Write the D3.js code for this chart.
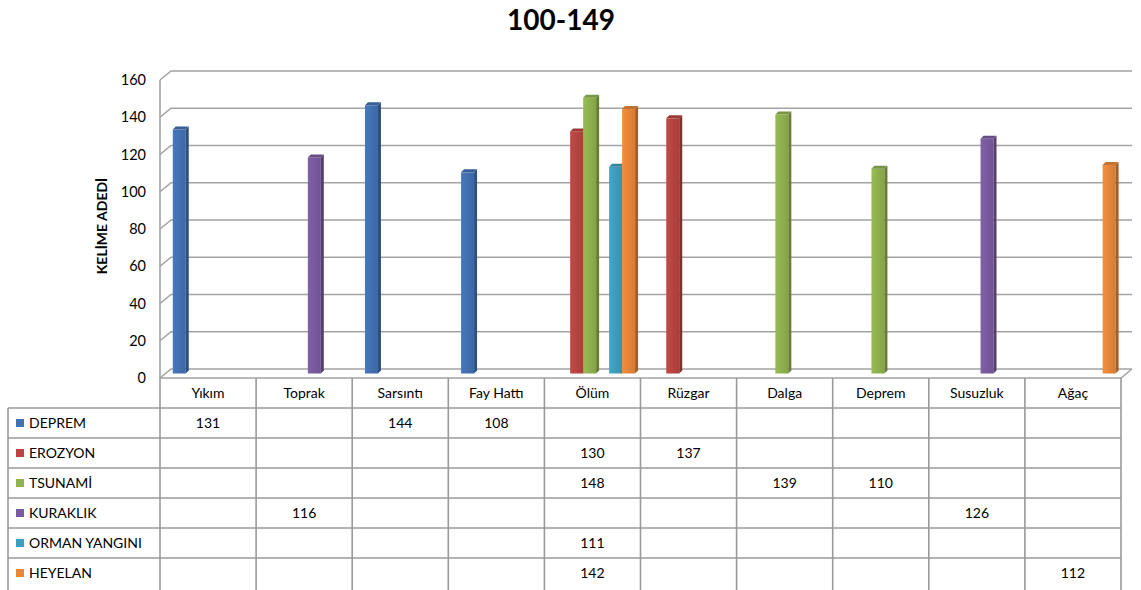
<!DOCTYPE html>
<html>
<head>
  <meta charset="utf-8">
  <title>100-149</title>
  <style>
    body { margin: 0; background: #fff; }
    text { font-family: Lato, "Open Sans", sans-serif; fill: #000; }
  </style>
</head>
<body>
<script src="https://cdn.jsdelivr.net/npm/d3@7/dist/d3.min.js"></script>
<script>
var categories = ['Yıkım', 'Toprak', 'Sarsıntı', 'Fay Hattı', 'Ölüm', 'Rüzgar', 'Dalga', 'Deprem', 'Susuzluk', 'Ağaç']
var seriesNames = ['DEPREM', 'EROZYON', 'TSUNAMİ', 'KURAKLIK', 'ORMAN YANGINI', 'HEYELAN']
var seriesColors = ['#4272b2', '#b94441', '#90b24f', '#7a5b9f', '#3d9fbe', '#e8883b']
// one value per category, null = empty cell
var deprem   = [131, null, 144, 108, null, null, null, null, null, null]
var erozyon  = [null, null, null, null, 130, 137, null, null, null, null]
var tsunami  = [null, null, null, null, 148, null, 139, 110, null, null]
var kuraklik = [null, 116, null, null, null, null, null, null, 126, null]
var orman    = [null, null, null, null, 111, null, null, null, null, null]
var heyelan  = [null, null, null, null, 142, null, null, null, null, 112]
var yTicks = [0, 20, 40, 60, 80, 100, 120, 140, 160]

var values = [deprem, erozyon, tsunami, kuraklik, orman, heyelan]

var width = 1141
var height = 590
var plotLeft = 160, plotRight = 1121, plotTop = 80, floorY = 378
var DX = 11, DY = -9      // depth of the walls
var BD = 3                // depth of a bar
var rowH = 30

var svg = d3.select('body').append('svg')
  .attr('width', width)
  .attr('height', height)

// slight left-to-right shading on the bar faces
var defs = svg.append('defs')
seriesColors.forEach(function(c, i) {
  var g = defs.append('linearGradient').attr('id', 'grad' + i)
    .attr('x1', 0).attr('x2', 1).attr('y1', 0).attr('y2', 0)
  g.append('stop').attr('offset', '0%').attr('stop-color', d3.color(c).brighter(0.15))
  g.append('stop').attr('offset', '100%').attr('stop-color', d3.color(c).darker(0.25))
})

var x = d3.scaleBand()
  .domain(categories)
  .range([plotLeft, plotRight])

var xs = d3.scaleBand()
  .domain(d3.range(seriesNames.length))
  .range([0, x.bandwidth()])
  .paddingOuter(0.7)
  .align(0.4)

var y = d3.scaleLinear()
  .domain([0, 160])
  .range([floorY, plotTop])

// title
svg.append('text')
  .attr('x', 561).attr('y', 30)
  .attr('text-anchor', 'middle')
  .style('font-size', '28px')
  .style('font-weight', 'bold')
  .text('100-149')

// walls & gridlines
var grid = svg.append('g').attr('stroke', '#a3a3a3').attr('stroke-width', 1.6).attr('fill', 'none')
grid.selectAll('path.gl')
  .data(yTicks)
  .enter()
  .append('path')
  .attr('class', 'gl')
  .attr('d', function(d) {
    var yy = y(d)
    return 'M' + plotLeft + ',' + yy + 'L' + (plotLeft + DX) + ',' + (yy + DY) + 'L' + (plotRight + DX) + ',' + (yy + DY)
  })
grid.append('path')
  .attr('d', 'M' + plotLeft + ',' + plotTop + 'L' + plotLeft + ',' + floorY)
// floor front edge and right corner
grid.append('path')
  .attr('d', 'M' + plotLeft + ',' + floorY + 'L' + plotRight + ',' + floorY + 'L' + (plotRight + DX) + ',' + (floorY + DY))

// y axis labels
var yAxis = d3.axisLeft(y).tickValues(yTicks).tickSize(0).tickPadding(14)
var gy = svg.append('g')
  .attr('transform', 'translate(' + plotLeft + ',0)')
  .call(yAxis)
gy.select('.domain').remove()
gy.selectAll('text')
  .style('font-size', '14.5px')
  .style('font-family', 'Lato, sans-serif')
  .attr('fill', '#000')

svg.append('text')
  .attr('transform', 'translate(107,226) rotate(-90)')
  .attr('text-anchor', 'middle')
  .style('font-size', '14px')
  .style('font-weight', 'bold')
  .text('KELİME ADEDİ')

// bars as small prisms, placed at mid depth
var bars = []
categories.forEach(function(c, ci) {
  values.forEach(function(arr, si) {
    if (arr[ci] != null) bars.push({ c: c, s: si, v: arr[ci] })
  })
})

var gb = svg.append('g').attr('transform', 'translate(' + (DX / 2) + ',' + (DY / 2) + ')')
var bar = gb.selectAll('g.bar')
  .data(bars)
  .enter()
  .append('g')
  .attr('class', 'bar')

function x0(d) { return x(d.c) + xs(d.s) }
var bw = xs.bandwidth()

bar.append('rect')
  .attr('x', x0)
  .attr('y', function(d) { return y(d.v) })
  .attr('width', bw)
  .attr('height', function(d) { return y(0) - y(d.v) })
  .attr('fill', function(d) { return 'url(#grad' + d.s + ')' })

bar.append('path')
  .attr('d', function(d) {
    var a = x0(d) + bw, t = y(d.v), b = y(0)
    return 'M' + a + ',' + t + 'L' + (a + BD) + ',' + (t - BD) + 'L' + (a + BD) + ',' + (b - BD) + 'L' + a + ',' + b + 'Z'
  })
  .attr('fill', function(d) { return d3.color(seriesColors[d.s]).darker(1) })

bar.append('path')
  .attr('d', function(d) {
    var a = x0(d), t = y(d.v)
    return 'M' + a + ',' + t + 'L' + (a + BD) + ',' + (t - BD) + 'L' + (a + bw + BD) + ',' + (t - BD) + 'L' + (a + bw) + ',' + t + 'Z'
  })
  .attr('fill', function(d) { return d3.color(seriesColors[d.s]).darker(0.5) })

// data table
var table = svg.append('g')
var lines = table.append('g').attr('stroke', '#9a9a9a').attr('stroke-width', 1.6)
var tableLeft = 8
var nRows = seriesNames.length

x.domain().forEach(function(c) {
  lines.append('line')
    .attr('x1', x(c)).attr('x2', x(c))
    .attr('y1', floorY).attr('y2', height)
})
lines.append('line')
  .attr('x1', plotRight).attr('x2', plotRight)
  .attr('y1', floorY).attr('y2', height)
lines.append('line')
  .attr('x1', tableLeft).attr('x2', tableLeft)
  .attr('y1', floorY + rowH).attr('y2', height)
d3.range(nRows).forEach(function(r) {
  lines.append('line')
    .attr('x1', tableLeft).attr('x2', plotRight)
    .attr('y1', floorY + rowH * (r + 1)).attr('y2', floorY + rowH * (r + 1))
})

table.selectAll('text.cat')
  .data(categories)
  .enter()
  .append('text')
  .attr('class', 'cat')
  .attr('x', function(d) { return x(d) + x.bandwidth() / 2 })
  .attr('y', floorY + rowH / 2 + 5)
  .attr('text-anchor', 'middle')
  .style('font-size', '14px')
  .text(function(d) { return d })

var legend = table.selectAll('g.leg')
  .data(seriesNames)
  .enter()
  .append('g')
  .attr('class', 'leg')
  .attr('transform', function(d, i) { return 'translate(0,' + (floorY + rowH * (i + 1)) + ')' })
legend.append('rect')
  .attr('x', 16).attr('y', rowH / 2 - 4)
  .attr('width', 8).attr('height', 8)
  .attr('fill', function(d, i) { return seriesColors[i] })
legend.append('text')
  .attr('x', 29).attr('y', rowH / 2 + 5)
  .style('font-size', '14px')
  .text(function(d) { return d })

table.selectAll('text.val')
  .data(bars)
  .enter()
  .append('text')
  .attr('class', 'val')
  .attr('x', function(d) { return x(d.c) + x.bandwidth() / 2 })
  .attr('y', function(d) { return floorY + rowH * (d.s + 1) + rowH / 2 + 5 })
  .attr('text-anchor', 'middle')
  .style('font-size', '14px')
  .text(function(d) { return d.v })
</script>
</body>
</html>
